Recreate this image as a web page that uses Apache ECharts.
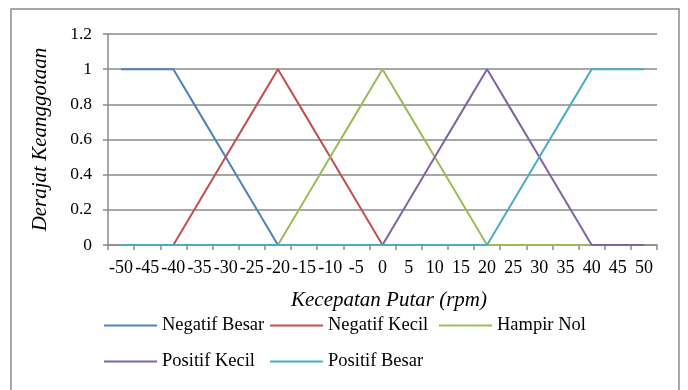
<!DOCTYPE html>
<html>
<head>
<meta charset="utf-8">
<script src="https://cdn.jsdelivr.net/npm/echarts@6/dist/echarts.min.js"></script>
<style>
  html, body { margin: 0; padding: 0; background: #fff; }
  #chart { width: 688px; height: 390px; }
</style>
</head>
<body>
<div id="chart"></div>
<script>
// Kecepatan putar (rpm) categories
var speeds = ['-50', '-45', '-40', '-35', '-30', '-25', '-20', '-15', '-10', '-5', '0',
              '5', '10', '15', '20', '25', '30', '35', '40', '45', '50'];

// Membership degree of each fuzzy set at every speed
var negatifBesar = [1, 1, 1, 0.75, 0.5, 0.25, 0, 0, 0, 0, 0, 0, 0, 0, 0, 0, 0, 0, 0, 0, 0];
var negatifKecil = [0, 0, 0, 0.25, 0.5, 0.75, 1, 0.75, 0.5, 0.25, 0, 0, 0, 0, 0, 0, 0, 0, 0, 0, 0];
var hampirNol    = [0, 0, 0, 0, 0, 0, 0, 0.25, 0.5, 0.75, 1, 0.75, 0.5, 0.25, 0, 0, 0, 0, 0, 0, 0];
var positifKecil = [0, 0, 0, 0, 0, 0, 0, 0, 0, 0, 0, 0.25, 0.5, 0.75, 1, 0.75, 0.5, 0.25, 0, 0, 0];
var positifBesar = [0, 0, 0, 0, 0, 0, 0, 0, 0, 0, 0, 0, 0, 0, 0, 0.25, 0.5, 0.75, 1, 1, 1];

var seriesNames = ['Negatif Besar', 'Negatif Kecil', 'Hampir Nol', 'Positif Kecil', 'Positif Besar'];
var seriesData = [negatifBesar, negatifKecil, hampirNol, positifKecil, positifBesar];
var colors = ['#4F81BD', '#C0504D', '#9BBB59', '#8064A2', '#4BACC6'];

var serif = '"Liberation Serif", "Times New Roman", serif';
var axisGrey = '#8a8a8a';
var lineIcon = 'path://M0,0H53V2H0Z';

// Legend laid out as a grid: one entry per cell (column x, row y)
var legendCells = [
  { name: 'Negatif Besar', left: 104, top: 316 },
  { name: 'Negatif Kecil', left: 270, top: 316 },
  { name: 'Hampir Nol',    left: 439, top: 316 },
  { name: 'Positif Kecil', left: 104, top: 352 },
  { name: 'Positif Besar', left: 270, top: 352 }
];

var chart = echarts.init(document.getElementById('chart'), null, { renderer: 'canvas' });

chart.setOption({
  animation: false,
  color: colors,
  graphic: [{
    type: 'rect',
    shape: { x: 11, y: 9, width: 668, height: 386 },
    style: { fill: 'none', stroke: axisGrey, lineWidth: 1.5 },
    silent: true
  }],
  grid: { left: 108, top: 34, width: 549, height: 211 },
  legend: legendCells.map(function (cell) {
    return {
      data: [cell.name],
      left: cell.left,
      top: cell.top,
      icon: lineIcon,
      itemWidth: 53,
      itemHeight: 18,
      padding: 0,
      selectedMode: false,
      textStyle: { fontFamily: serif, fontSize: 18.5, color: '#000' }
    };
  }),
  xAxis: {
    type: 'category',
    data: speeds,
    boundaryGap: true,
    name: 'Kecepatan Putar (rpm)',
    nameLocation: 'middle',
    nameGap: 45,
    nameTextStyle: { fontFamily: serif, fontSize: 21, fontStyle: 'italic', color: '#000', padding: [0, 0, 0, 13] },
    axisLine: { lineStyle: { color: axisGrey, width: 1.5 } },
    axisTick: { show: true, interval: 0, length: 5, lineStyle: { color: axisGrey, width: 1.5 } },
    axisLabel: { interval: 0, margin: 14, fontFamily: serif, fontSize: 18, color: '#000' },
    splitLine: { show: false }
  },
  yAxis: {
    type: 'value',
    min: 0,
    max: 1.2,
    interval: 0.2,
    name: 'Derajat Keanggotaan',
    nameLocation: 'middle',
    nameRotate: 90,
    nameGap: 57,
    nameTextStyle: { fontFamily: serif, fontSize: 21, fontStyle: 'italic', color: '#000' },
    axisLine: { show: true, lineStyle: { color: axisGrey, width: 1.5 } },
    axisTick: { show: true, length: 5, lineStyle: { color: axisGrey, width: 1.5 } },
    axisLabel: { margin: 16, fontFamily: serif, fontSize: 17.5, color: '#000' },
    splitLine: { show: true, lineStyle: { color: axisGrey, width: 1.5 } }
  },
  series: seriesNames.map(function (name, i) {
    return {
      name: name,
      type: 'line',
      data: seriesData[i],
      showSymbol: false,
      symbol: 'none',
      lineStyle: { width: 2, color: colors[i] },
      itemStyle: { color: colors[i] }
    };
  })
});
</script>
</body>
</html>
